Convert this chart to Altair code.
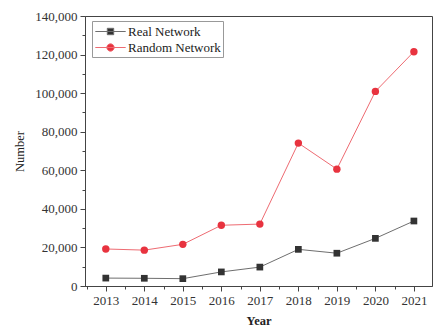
import altair as alt
import pandas as pd

years = [2013, 2014, 2015, 2016, 2017, 2018, 2019, 2020, 2021]
real_network = [4100, 4000, 3800, 7300, 9800, 19000, 17000, 24700, 33700]
random_network = [19200, 18600, 21600, 31500, 32100, 74100, 60600, 100900, 121500]

series_names = ["Real Network", "Random Network"]
marker_colors = ["#333333", "#e8333f"]
line_colors = ["#6e6e6e", "#ee6b72"]

rows = []
for y, a, b in zip(years, real_network, random_network):
    rows.append({"year": y, "value": a, "series": series_names[0]})
    rows.append({"year": y, "value": b, "series": series_names[1]})
df = pd.DataFrame(rows)

FONT = "Liberation Serif"

x_enc = alt.X(
    "year:Q",
    scale=alt.Scale(domain=[2012.46, 2021.47], nice=False, zero=False),
    axis=alt.Axis(
        title="Year",
        values=[v / 2 for v in range(4025, 4044)],
        labelExpr="datum.value % 1 === 0 ? format(datum.value, 'd') : ''",
        tickSize={"condition": {"test": "datum.value % 1 === 0", "value": 5}, "value": 3},
        grid=False,
        titleFontWeight="bold",
        titlePadding=7,
    ),
)

y_scale = alt.Scale(domain=[0, 140000], nice=False)
y_axis = alt.Axis(
    title="Number",
    values=list(range(0, 140001, 10000)),
    labelExpr="datum.value % 20000 === 0 ? format(datum.value, ',d') : ''",
    tickSize={"condition": {"test": "datum.value % 20000 === 0", "value": 5}, "value": 3},
    grid=False,
    titleFontWeight="normal",
    titlePadding=8,
)
y_enc = alt.Y("value:Q", scale=y_scale, axis=y_axis)


def series_layers(name, line_color, marker_color, shape, size):
    base = alt.Chart(df).transform_filter(alt.datum.series == name)
    line = base.mark_line(strokeWidth=1, color=line_color).encode(x=x_enc, y=y_enc)
    pts = base.mark_point(shape=shape, filled=True, size=size, opacity=1, color=marker_color).encode(
        x=x_enc, y=y_enc
    )
    return [line, pts]


layers = series_layers(series_names[0], line_colors[0], marker_colors[0], "square", 45)
layers += series_layers(series_names[1], line_colors[1], marker_colors[1], "circle", 55)

# legend symbols: a short line with the series marker on it
square_sym = "M-1.9,0H1.9M-0.4,-0.4H0.4V0.4H-0.4Z"
circle_sym = "M-1.9,0H1.9M0.46,0A0.46,0.46,0,1,1,-0.46,0A0.46,0.46,0,1,1,0.46,0Z"

legend = alt.Legend(
    title=None,
    orient="none",
    legendX=7,
    legendY=5,
    strokeColor="#999999",
    fillColor="white",
    padding=2,
    symbolSize=256,
    symbolStrokeWidth=1,
    symbolOffset=8,
    labelOffset=9,
    labelFont=FONT,
    labelFontSize=13,
    labelColor="#222222",
    rowPadding=0,
)

# carries the legend only; its points sit below the axis and are clipped away
legend_layer = alt.Chart(df).transform_calculate(
    hidden="-100000"
).mark_point(
    filled=True, opacity=1, strokeWidth=1, clip=True
).encode(
    x=x_enc,
    y=alt.Y("hidden:Q", scale=y_scale, axis=y_axis),
    fill=alt.Fill("series:N", scale=alt.Scale(domain=series_names, range=marker_colors), legend=legend),
    stroke=alt.Stroke("series:N", scale=alt.Scale(domain=series_names, range=line_colors), legend=legend),
    shape=alt.Shape("series:N", scale=alt.Scale(domain=series_names, range=[square_sym, circle_sym]), legend=legend),
)

chart = alt.layer(*layers, legend_layer).properties(
    width=347,
    height=270,
    autosize=alt.AutoSizeParams(type="none"),
    padding={"left": 85, "top": 16, "right": 2, "bottom": 50},
    background="white",
).configure_view(
    stroke="#444444", strokeWidth=1
).configure_axis(
    labelFont=FONT,
    titleFont=FONT,
    labelFontSize=13,
    titleFontSize=12.5,
    labelColor="#333333",
    titleColor="#222222",
    domainColor="#444444",
    tickColor="#444444",
    labelPadding=3,
)

chart.save("out.html", embed_options={"renderer": "svg", "actions": False})
